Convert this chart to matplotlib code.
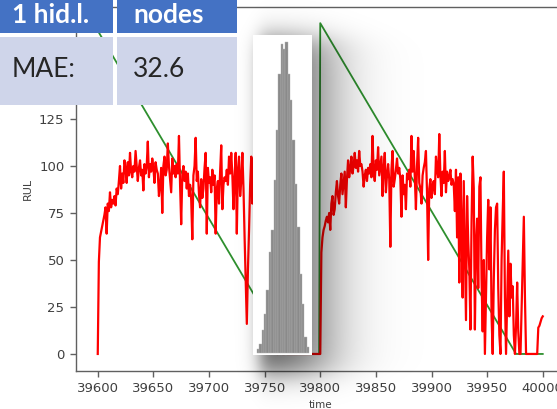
import numpy as np
import matplotlib
matplotlib.use("Agg")
import matplotlib.pyplot as plt
from matplotlib.patches import Rectangle

W, H = 557, 409

# ---- data -------------------------------------------------------------
t_start = 39600

# predicted RUL, one value per time step starting at t_start
rul_pred = [
    0, 49, 62, 65, 68, 71, 74, 78, 64, 80,
    76, 86, 78, 82, 80, 84, 79, 88, 85, 92,
    100, 88, 96, 91, 103, 99, 91, 102, 95, 107,
    97, 94, 100, 97, 108, 100, 92, 99, 103, 95,
    98, 87, 101, 96, 100, 113, 94, 101, 97, 104,
    99, 91, 102, 98, 96, 84, 90, 99, 75, 100,
    105, 95, 98, 112, 100, 93, 86, 104, 96, 100,
    94, 101, 96, 116, 90, 69, 95, 100, 92, 97,
    88, 96, 84, 90, 82, 61, 95, 100, 115, 92,
    97, 85, 78, 93, 83, 88, 99, 107, 64, 99,
    91, 94, 86, 98, 90, 95, 64, 88, 92, 80,
    97, 111, 77, 90, 94, 92, 98, 90, 105, 96,
    107, 95, 77, 94, 107, 64, 98, 105, 84, 92,
    107, 88, 62, 40, 16, 45, 66, 90, 105, 80,
    104, 95, 60, 88, 30, 92, 45, 70, 12, 85,
    40, 66, 0, 78, 25, 54, 0, 60, 10, 0,
    45, 0, 0, 38, 0, 20, 0, 0, 0, 15,
    0, 0, 0, 0, 0, 0, 0, 0, 0, 0,
    0, 0, 0, 0, 0, 0, 0, 0, 0, 0,
    0, 0, 0, 0, 0, 0, 0, 0, 0, 0,
    0, 54, 62, 66, 68, 71, 73, 70, 75, 66,
    80, 84, 74, 77, 86, 92, 84, 80, 90, 96,
    85, 91, 97, 78, 93, 103, 94, 99, 105, 96,
    100, 107, 99, 103, 97, 108, 100, 101, 97, 89,
    95, 98, 92, 99, 96, 101, 94, 116, 97, 92,
    103, 98, 110, 95, 100, 105, 84, 99, 107, 86,
    95, 101, 93, 57, 98, 108, 89, 93, 98, 104,
    96, 99, 93, 73, 95, 85, 90, 77, 96, 93,
    98, 89, 116, 97, 108, 94, 77, 100, 115, 91,
    88, 80, 95, 99, 102, 108, 85, 50, 88, 93,
    83, 90, 92, 85, 105, 98, 94, 117, 95, 84,
    97, 91, 108, 86, 97, 92, 94, 98, 90, 93,
    90, 76, 98, 62, 94, 38, 96, 70, 30, 92,
    55, 18, 84, 60, 45, 13, 70, 105, 88, 13,
    59, 72, 35, 89, 94, 40, 12, 50, 0, 30,
    62, 82, 45, 78, 20, 0, 40, 66, 78, 80,
    35, 10, 0, 50, 75, 97, 30, 0, 28, 55,
    20, 48, 30, 36, 10, 0, 15, 38, 12, 0,
    0, 25, 50, 73, 30, 0, 0, 0, 0, 0,
    0, 0, 0, 0, 0, 0, 14, 15, 17, 19,
    20,
]

# true RUL (piecewise linear), given at its corner points
rul_true_t = [39600, 39772, 39799, 39800, 39976, 40000]
rul_true_v = [172, 0, 0, 176, 0, 0]

# error distribution of the predictions (bin counts)
err_counts = [14, 30, 73, 126, 201, 325, 394, 555, 716, 898, 995,
              979, 1000, 898, 812, 684, 544, 405, 255, 159, 51, 19]

x_ticks = [39600, 39650, 39700, 39750, 39800, 39850, 39900, 39950, 40000]
y_ticks = [0, 25, 50, 75, 100, 125]

table_cells = [["1 hid.l.", "nodes"], ["MAE:", "32.6"]]

# ---- figure -----------------------------------------------------------
fig = plt.figure(figsize=(W / 100, H / 100), dpi=100)
fig.patch.set_facecolor("white")


def fx(px):
    return px / W


def fy(py):
    return 1 - py / H


ink = "#404040"
spine_c = "#606060"

ax_l, ax_r, ax_t, ax_b = 75.5, 565.0, 6.6, 370.5
ax = fig.add_axes([fx(ax_l), fy(ax_b), (ax_r - ax_l) / W, (ax_b - ax_t) / H])
ax.set_zorder(0)

t = np.arange(t_start, t_start + len(rul_pred))
ax.plot(rul_true_t, rul_true_v, color="#2e8f2e", lw=1.3, zorder=2)
ax.plot(t, rul_pred, color="#ff0000", lw=1.6, zorder=3)

ax.set_xlim(39580, 40020)
ax.set_ylim(-8.8, 184.8)
ax.set_xticks(x_ticks)
ax.set_yticks(y_ticks)
ax.tick_params(colors=spine_c, labelcolor=ink, labelsize=9.5, length=4.5, width=1.0)
for s in ax.spines.values():
    s.set_color(spine_c)
    s.set_linewidth(1.0)
ax.set_xlabel("time", fontsize=7.5, color=ink)
ax.set_ylabel("RUL", fontsize=8, color=ink)

# ---- drop shadow behind the histogram panel ---------------------------
sh_ax = fig.add_axes([0, 0, 1, 1])
sh_ax.set_zorder(1)
sh_ax.set_axis_off()
X, Y = np.meshgrid(np.arange(W) + 0.5, np.arange(H) + 0.5)


def sig(z):
    return 1.0 / (1.0 + np.exp(-z))


dark = 0.66 * sig((X - 260) / 5) * sig((322 - X) / 20) * sig((Y - 38) / 8) * sig((374 - Y) / 8)
rgba = np.zeros((H, W, 4))
rgba[..., 3] = dark
sh_ax.imshow(rgba, extent=(0, W, H, 0), interpolation="bilinear", aspect="auto")
sh_ax.set_xlim(0, W)
sh_ax.set_ylim(H, 0)

# ---- histogram panel --------------------------------------------------
bx0, bx1, by0, by1 = 253, 312, 35, 355
hax = fig.add_axes([fx(bx0), fy(by1), (bx1 - bx0) / W, (by1 - by0) / H])
hax.set_zorder(2)
hax.set_facecolor("white")
for s in hax.spines.values():
    s.set_visible(False)
hax.set_xticks([])
hax.set_yticks([])
n = len(err_counts)
hax.bar(np.arange(n), err_counts, width=1.0, align="edge",
        color="#8a8a8a", edgecolor="#b5b5b5", linewidth=0.3)
bar_px = (309 - 257) / n
hax.set_xlim(-(257 - bx0) / bar_px, n + (bx1 - 309) / bar_px)
cmax = max(err_counts)
scale = cmax / (353 - 42)
hax.set_ylim(-(by1 - 353) * scale, cmax + (42 - by0) * scale)

# ---- summary table ----------------------------------------------------
head_c = "#4472C4"
body_c = "#CFD5EA"
cols = [(0, 113), (117, 237)]
rows = [(0, 33), (37, 105)]
for ri, (r0, r1) in enumerate(rows):
    for ci, (c0, c1) in enumerate(cols):
        fig.add_artist(Rectangle((fx(c0), fy(r1)), (c1 - c0) / W, (r1 - r0) / H,
                                 transform=fig.transFigure,
                                 facecolor=head_c if ri == 0 else body_c,
                                 edgecolor="none", zorder=5))

text_x = [12, 133]
base_y = [23, 77]
for ri in range(2):
    for ci in range(2):
        fig.text(fx(text_x[ci]), fy(base_y[ri]), table_cells[ri][ci],
                 family="Lato", fontsize=19,
                 fontweight="bold" if ri == 0 else "normal",
                 color="white" if ri == 0 else "#262626",
                 ha="left", va="baseline", zorder=6)

fig.savefig("out.png", dpi=100)
